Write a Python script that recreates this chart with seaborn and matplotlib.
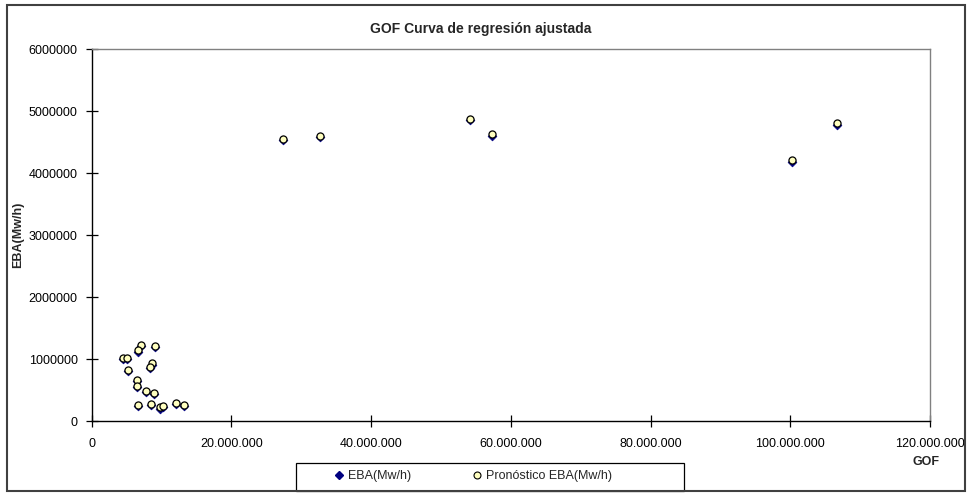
import matplotlib
matplotlib.use("Agg")
import matplotlib.pyplot as plt
import matplotlib.ticker as mticker
from matplotlib.patches import Rectangle
from matplotlib.lines import Line2D
import pandas as pd
import seaborn as sns

# GOF values (x) with observed and forecast EBA (Mw/h)
gof = [7.06e6, 9.11e6, 6.58e6, 4.53e6, 5.10e6, 8.59e6, 8.35e6, 5.24e6, 6.44e6,
       6.44e6, 7.77e6, 8.97e6, 6.63e6, 8.54e6, 9.78e6, 10.16e6, 12.11e6, 13.17e6,
       27.4e6, 32.7e6, 54.1e6, 57.3e6, 100.3e6, 106.7e6]
eba = [1.205e6, 1.19e6, 1.12e6, 1.0e6, 1.0e6, 0.91e6, 0.85e6, 0.81e6, 0.64e6,
       0.545e6, 0.465e6, 0.435e6, 0.235e6, 0.26e6, 0.2e6, 0.225e6, 0.268e6, 0.24e6,
       4.54e6, 4.59e6, 4.855e6, 4.61e6, 4.19e6, 4.785e6]
pronostico = [1.23e6, 1.21e6, 1.14e6, 1.02e6, 1.02e6, 0.93e6, 0.87e6, 0.83e6, 0.66e6,
              0.566e6, 0.485e6, 0.453e6, 0.259e6, 0.28e6, 0.22e6, 0.243e6, 0.286e6, 0.259e6,
              4.56e6, 4.61e6, 4.875e6, 4.63e6, 4.21e6, 4.82e6]

title = "GOF Curva de regresión ajustada"
x_label = "GOF"
y_label = "EBA(Mw/h)"
series_names = ["EBA(Mw/h)", "Pronóstico EBA(Mw/h)"]
x_ticks = [0, 20e6, 40e6, 60e6, 80e6, 100e6, 120e6]
y_ticks = [0, 1e6, 2e6, 3e6, 4e6, 5e6, 6e6]

sns.set_style("white")
plt.rcParams["font.family"] = ["Liberation Sans", "DejaVu Sans"]

df = pd.DataFrame({"gof": gof, "eba": eba, "pron": pronostico})

fig = plt.figure(figsize=(9.67, 4.93), dpi=100)
ax = fig.add_axes([0.0948, 0.146, 0.8669, 0.7536])

diamond_color = "#000080"
circle_face = "#FFFFC0"

sns.scatterplot(data=df, x="gof", y="eba", ax=ax, marker="D", s=20,
                color=diamond_color, edgecolor=diamond_color, linewidth=0.5, zorder=3)
sns.scatterplot(data=df, x="gof", y="pron", ax=ax, marker="o", s=26,
                color=circle_face, edgecolor="black", linewidth=0.9, zorder=4)

ax.set_xlim(0, 120e6)
ax.set_ylim(0, 6e6)
ax.set_xticks(x_ticks)
ax.set_yticks(y_ticks)
ax.xaxis.set_major_formatter(mticker.FuncFormatter(
    lambda v, p: "0" if v == 0 else f"{int(round(v)):,}".replace(",", ".")))
ax.yaxis.set_major_formatter(mticker.FuncFormatter(lambda v, p: f"{int(round(v))}"))
ax.tick_params(axis="both", direction="inout", length=8, width=0.9, color="black",
               labelsize=9, labelcolor="black", pad=6)
ax.tick_params(axis="x", bottom=True, pad=8)
ax.tick_params(axis="y", left=True)

for side in ("left", "bottom"):
    ax.spines[side].set_color("black")
    ax.spines[side].set_linewidth(1.0)
for side in ("top", "right"):
    ax.spines[side].set_visible(True)
    ax.spines[side].set_color("#808080")
    ax.spines[side].set_linewidth(1.0)

ax.set_xlabel("")
ax.set_ylabel(y_label, fontsize=9, fontweight="bold")
ax.yaxis.set_label_coords(-0.08, 0.5)

fig.text(0.497, 0.942, title, ha="center", va="center", fontsize=10, fontweight="bold")
fig.text(0.958, 0.063, x_label, ha="center", va="center", fontsize=9, fontweight="bold")

handles = [
    Line2D([], [], linestyle="none", marker="D", markersize=4, color=diamond_color,
           markeredgecolor=diamond_color),
    Line2D([], [], linestyle="none", marker="o", markersize=5, markerfacecolor=circle_face,
           markeredgecolor="black", markeredgewidth=0.8),
]
leg = fig.legend(handles, series_names, loc="center", ncol=2,
                 bbox_to_anchor=(0.489, 0.0335), frameon=False, fontsize=9,
                 handlelength=0.8, handletextpad=0.3, columnspacing=4.9)

# legend box
fig.patches.append(Rectangle((296 / 967, 0.004), 388 / 967, 0.057, transform=fig.transFigure,
                             fill=False, edgecolor="black", linewidth=0.9))
# chart frame
fig.patches.append(Rectangle((0.007, 0.004), 0.991, 0.986, transform=fig.transFigure,
                             fill=False, edgecolor="#404040", linewidth=1.5))

fig.savefig("out.png", dpi=100)
